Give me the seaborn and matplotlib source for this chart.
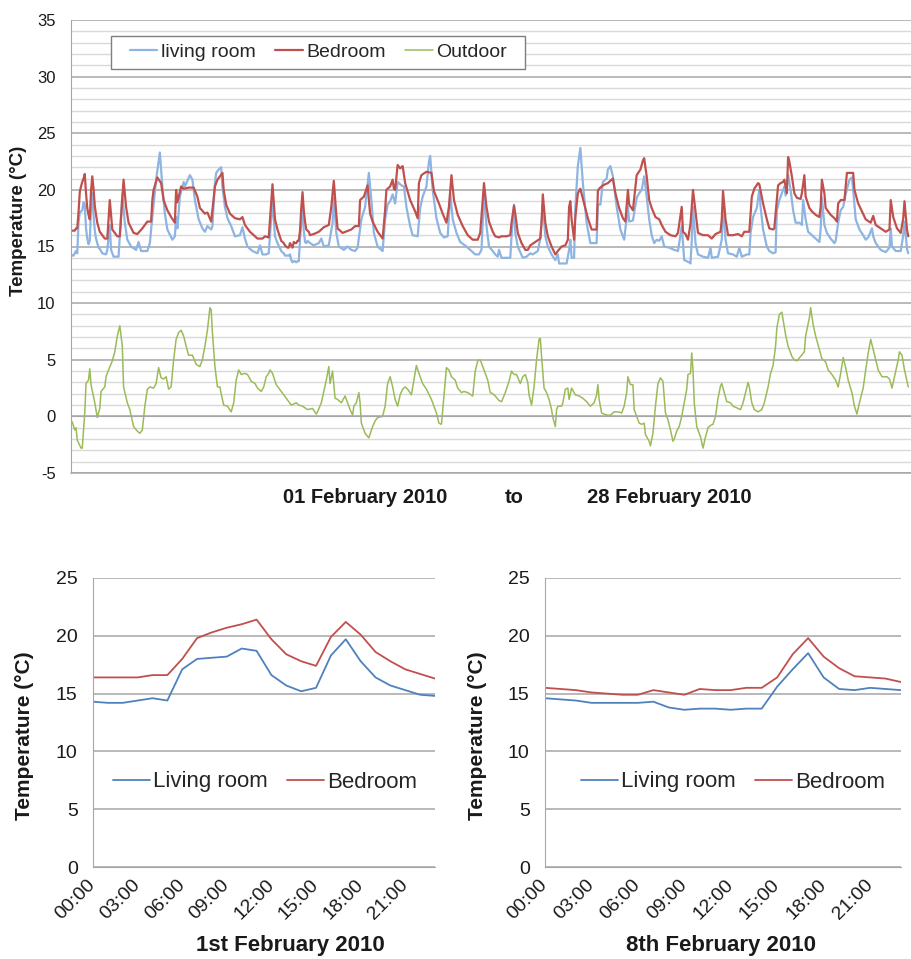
import matplotlib
matplotlib.use("Agg")
import matplotlib.pyplot as plt
from matplotlib.patches import Rectangle
from matplotlib.lines import Line2D
from matplotlib.ticker import MultipleLocator
import pandas as pd
import seaborn as sns

# ---------------------------------------------------------------------------
# February 2010 readings: (hour since 1 Feb 00:00, temperature in degC)
# ---------------------------------------------------------------------------
living_month = [
    (0,14.3),(1,14.2),(2,14.2),(3,14.4),(4,14.6),(5,14.4),(6,17.1),(7,18.0),(8,18.1),(9,18.2),(10,18.9),(11,18.7),
    (12,16.6),(13,15.7),(14,15.2),(15,15.5),(16,18.3),(17,19.7),(18,17.8),(19,16.4),(20,15.7),(21,15.3),(22,14.9),(23,14.8),
    (25,14.4),(28,14.3),(29,14.7),(31,16.9),(32,14.7),(34,14.1),(38,14.1),(41,19.6),(43,17.1),(45,15.6),(48,15.0),(52,14.7),
    (54,15.4),(56,14.6),(61,14.6),(63,15.3),(65,17.6),(68,20.9),(71,23.3),(73,20.3),(75,17.9),(77,16.5),(81,15.6),(83,15.9),
    (84,17.6),(85,16.6),(87,19.4),(90,20.7),(91,20.3),(95,21.3),(97,20.9),(99,19.1),(102,17.4),(105,16.6),(107,16.3),(109,16.8),
    (112,16.5),(113,16.8),(115,20.6),(116,21.5),(118,21.8),(120,22.0),(121,20.3),(123,18.5),(125,17.5),(128,16.8),(131,15.9),
    (135,16.0),(137,16.7),(139,15.7),(141,15.0),(145,14.6),(149,14.4),(151,15.1),(153,14.3),(156,14.3),(158,14.4),(161,19.1),
    (163,15.9),(165,15.3),
    (168,14.6),(169,14.5),(170,14.4),(171,14.2),(172,14.2),(173,14.2),(174,14.2),(175,14.3),(176,13.8),(177,13.6),(178,13.7),(179,13.7),
    (180,13.6),(181,13.7),(182,13.7),(183,15.6),(184,17.1),(185,18.5),(186,16.4),(187,15.4),(188,15.3),(189,15.5),(190,15.4),(191,15.3),
    (194,15.1),(198,15.3),(200,15.7),(202,15.0),(206,15.1),(209,17.1),(210,19.3),(212,16.2),(214,15.0),(218,14.7),(221,15.0),
    (224,14.7),(227,14.6),(229,14.9),(232,17.4),(235,18.5),(238,21.5),(240,19.1),(242,16.2),(245,15.0),(249,14.6),(251,17.4),
    (253,18.7),(255,19.0),(257,19.6),(259,18.8),(261,20.7),(264,20.4),(266,20.3),(268,18.5),(271,16.8),(273,16.0),(277,15.9),
    (279,18.4),(281,19.4),(284,20.3),(286,22.5),(287,23.0),(289,20.0),(292,17.5),(295,16.2),(298,15.8),(301,15.9),(303,19.7),
    (305,17.4),(308,16.2),(311,15.4),(316,15.0),(320,14.6),(323,14.3),(326,14.3),(328,14.7),(330,19.7),(332,16.8),(334,15.0),
    (337,14.6),(339,14.3),(341,14.1),(342,14.7),(344,14.0),(351,14.0),(352,15.9),(354,18.7),(355,16.2),(357,15.0),(361,14.0),
    (364,14.1),(367,14.4),(369,14.3),(373,14.6),(375,15.7),(377,18.7),(379,15.9),(381,15.0),(384,14.3),(387,13.8),(389,14.3),
    (390,13.5),(396,13.5),(398,14.7),(399,15.6),(400,14.0),(402,14.0),(403,18.5),(405,22.1),(407,23.7),(409,20.6),(412,17.1),
    (415,15.3),(420,15.3),(421,18.7),(423,18.7),(425,20.7),(428,21.0),(429,21.8),(431,22.1),(433,21.2),(436,18.5),(439,16.5),
    (442,15.6),(445,18.5),(446,17.2),(449,17.3),(452,19.3),(454,19.7),(456,20.0),(458,21.2),(460,19.4),(462,17.4),(464,16.0),
    (466,15.3),(468,15.6),(470,15.5),(472,15.9),(474,15.0),(478,14.9),(482,14.7),(485,14.6),(486,15.3),(488,16.8),(489,15.3),
    (490,13.8),(494,13.6),(495,13.5),(496,15.5),(497,18.5),(499,15.3),(501,14.3),(505,14.1),(509,14.0),(511,14.9),(512,14.0),
    (517,14.1),(520,15.6),(521,18.7),(523,15.6),(525,14.4),(529,14.3),(532,14.1),(534,14.9),(536,14.1),(540,14.3),(542,14.3),
    (543,16.2),(545,17.6),(548,18.4),(550,20.0),(551,18.5),(553,16.5),(556,15.0),(558,14.6),(561,14.4),(563,14.5),(564,18.2),
    (566,19.1),(568,19.7),(570,20.3),(571,19.5),(573,21.3),(575,20.0),(577,18.2),(579,17.1),(582,17.1),(584,16.9),(585,19.1),
    (587,17.4),(589,16.3),(592,16.0),(595,15.7),(598,15.4),(599,16.5),(600,19.3),(602,16.9),(604,16.2),(607,15.7),(610,15.3),
    (611,15.5),(613,17.1),(615,18.2),(617,18.5),(619,19.6),(622,20.9),(624,21.1),(625,20.0),(627,17.4),(630,16.5),(633,16.0),
    (635,15.6),(637,15.8),(640,16.6),(641,15.9),(643,15.3),(647,14.7),(651,14.5),(654,14.9),(655,16.6),(656,15.0),(659,14.6),
    (663,14.6),(665,16.0),(666,17.2),(668,14.8),(669,14.4),
]

bedroom_month = [
    (0,16.4),(1,16.4),(2,16.4),(3,16.4),(4,16.6),(5,16.6),(6,18.0),(7,19.8),(8,20.3),(9,20.7),(10,21.0),(11,21.4),
    (12,19.7),(13,18.4),(14,17.8),(15,17.4),(16,19.9),(17,21.2),(18,20.1),(19,18.6),(20,17.8),(21,17.1),(22,16.7),(23,16.3),
    (27,15.7),(29,15.7),(31,19.1),(33,16.5),(37,15.9),(39,15.9),(42,20.9),(44,18.5),(46,17.1),(50,16.2),(53,16.1),(57,16.6),
    (61,17.2),(64,17.2),(65,19.1),(66,20.0),(69,21.1),(72,20.6),(74,19.1),(77,18.2),(80,17.6),(83,17.1),(84,20.0),(85,18.9),
    (88,20.3),(90,20.1),(94,20.2),(98,20.2),(101,19.4),(103,18.4),(107,17.9),(109,18.0),(112,17.2),(115,20.3),(117,20.9),
    (121,21.5),(122,20.0),(124,18.7),(127,17.9),(131,17.5),(135,17.4),(137,17.6),(139,16.9),(143,16.3),(147,15.9),(149,15.7),
    (153,15.7),(155,15.9),(158,15.8),(161,20.5),(163,17.4),(165,16.5),
    (168,15.5),(169,15.4),(170,15.3),(171,15.1),(172,15.0),(173,14.9),(174,14.9),(175,15.3),(176,15.1),(177,14.9),(178,15.4),(179,15.3),
    (180,15.3),(181,15.5),(182,15.5),(183,16.4),(184,18.4),(185,19.8),(186,18.2),(187,17.2),(188,16.5),(189,16.4),(190,16.3),(191,16.0),
    (194,16.1),(198,16.3),(202,16.7),(206,16.9),(208,18.5),(210,20.8),(212,17.8),(213,16.6),(217,16.2),(224,16.5),(227,16.8),
    (230,16.8),(231,19.1),(234,19.4),(237,20.4),(239,17.9),(241,17.2),(245,16.3),(249,15.7),(251,18.2),(252,20.0),(255,20.3),
    (257,20.9),(258,20.1),(259,20.0),(261,22.2),(263,21.9),(265,22.1),(267,20.6),(271,19.1),(275,18.1),(277,17.5),(278,20.6),
    (280,21.3),(284,21.6),(288,21.5),(290,19.9),(294,18.8),(297,17.9),(300,17.1),(302,18.5),(304,21.3),(306,19.1),(309,17.8),
    (313,16.8),(317,16.0),(321,15.6),(325,15.6),(327,16.2),(330,20.6),(332,18.5),(334,17.2),(337,16.3),(339,15.9),(342,15.8),
    (344,15.9),(348,15.9),(351,16.0),(352,17.1),(354,18.6),(355,17.9),(357,16.2),(360,15.3),(363,14.7),(365,14.7),(367,15.1),
    (371,15.4),(375,15.7),(376,17.1),(377,19.6),(379,17.1),(381,15.9),(384,15.0),(387,14.3),(389,14.6),(392,15.0),(395,15.1),
    (397,15.6),(398,18.5),(399,19.0),(400,17.4),(402,15.6),(403,17.6),(405,19.7),(407,20.1),(410,18.8),(413,17.5),(416,16.5),
    (420,16.5),(421,19.9),(422,20.1),(425,20.4),(429,20.6),(433,21.0),(435,19.7),(438,18.4),(441,17.5),(443,17.2),(445,20.0),
    (446,18.7),(449,18.2),(452,21.3),(455,21.8),(457,22.6),(458,22.8),(460,21.2),(462,19.1),(464,18.4),(467,17.6),(470,17.4),
    (472,16.9),(475,16.3),(479,16.0),(483,15.9),(485,16.2),(488,18.5),(489,16.3),(491,16.1),(493,15.6),(495,17.0),(497,20.0),
    (499,18.1),(501,16.2),(505,16.0),(509,16.0),(512,15.7),(515,16.1),(519,16.3),(520,17.4),(521,19.9),(523,17.4),(525,16.0),
    (529,16.0),(533,16.1),(536,15.9),(538,16.3),(542,16.3),(544,19.4),(546,20.1),(549,20.6),(550,20.5),(553,18.8),(556,17.4),
    (558,16.6),(561,16.5),(562,16.6),(564,19.1),(565,20.4),(567,20.6),(569,20.7),(570,20.9),(572,19.7),(573,22.9),(574,22.5),
    (576,21.2),(578,19.7),(580,19.3),(583,19.2),(584,19.7),(586,21.3),(587,19.4),(590,18.4),(592,18.1),(595,17.8),(598,17.6),
    (599,18.5),(600,20.9),(602,19.7),(603,18.4),(607,17.8),(610,17.5),(612,17.2),(613,18.8),(615,19.1),(618,19.1),(620,21.5),
    (622,21.5),(625,21.5),(626,20.0),(629,18.8),(632,18.1),(635,17.4),(639,17.1),(641,17.7),(643,16.9),(647,16.6),(651,16.3),
    (654,16.5),(655,19.1),(657,17.6),(660,16.6),(663,16.2),(665,17.5),(666,19.0),(668,16.5),(669,15.9),
]

outdoor_month = [
    (0,-0.4),(1,-0.5),(3,-1.2),(4,-1.0),(5,-2.1),(8,-2.8),(9,-2.8),(11,0.3),(12,2.9),(14,3.2),(15,4.2),(16,2.8),(19,1.2),
    (21,-0.1),(23,0.7),(24,2.2),(27,2.6),(28,3.5),(30,4.1),(33,4.9),(35,5.7),(37,7.1),(39,8.0),(40,7.1),(41,6.2),(42,2.6),
    (45,1.2),(47,0.6),(50,-0.9),(53,-1.3),(55,-1.5),(57,-1.2),(59,0.9),(61,2.4),(63,2.6),(66,2.5),(68,2.9),(70,4.3),(72,3.4),
    (74,3.3),(76,3.5),(78,2.4),(80,2.6),(82,5.0),(84,6.8),(86,7.4),(88,7.6),(90,7.1),(92,6.2),(94,5.4),(97,5.4),(100,4.6),
    (103,4.4),(105,5.0),(107,6.2),(109,7.6),(111,9.6),(112,9.4),(113,7.4),(115,4.4),(117,2.6),(119,2.6),(120,2.0),(122,1.0),
    (125,0.9),(128,0.4),(130,1.2),(132,3.2),(134,4.1),(136,3.7),(139,3.8),(141,3.7),(144,3.1),(147,2.9),(149,2.5),(152,2.2),
    (154,2.6),(156,3.5),(158,3.8),(159,4.1),(161,3.8),(164,2.8),(168,2.2),(172,1.6),(176,1.0),(180,1.2),(182,1.0),(185,0.9),
    (189,0.6),(193,0.7),(196,0.2),(197,0.4),(200,1.2),(202,2.2),(204,3.2),(206,4.4),(207,2.9),(209,4.0),(211,1.6),(213,1.5),
    (216,1.2),(219,1.8),(221,1.2),(223,0.6),(225,0.1),(226,0.9),(228,1.2),(230,2.1),(231,1.2),(232,-0.6),(235,-1.5),(238,-1.9),
    (241,-0.9),(243,-0.4),(245,-0.1),(249,0.0),(251,0.9),(253,2.9),(255,3.5),(257,2.6),(259,1.5),(261,0.9),(263,1.9),(265,2.4),
    (267,2.6),(269,2.4),(272,1.9),(274,3.2),(276,4.5),(278,3.8),(281,2.9),(284,2.4),(288,1.5),(292,0.3),(294,-0.6),(296,-0.7),
    (298,1.8),(300,4.3),(302,4.1),(304,3.5),(307,3.2),(309,2.5),(312,2.1),(314,2.2),(317,2.1),(321,1.8),(323,4.0),(325,4.9),
    (327,5.0),(330,4.1),(333,3.2),(335,2.1),(337,2.0),(339,1.8),(342,1.4),(344,1.3),(347,2.1),(350,3.1),(352,4.0),(354,3.7),
    (356,3.7),(359,2.9),(361,3.5),(363,3.7),(365,3.0),(366,1.9),(368,1.0),(370,2.6),(372,5.0),(374,6.8),(375,6.9),(376,5.3),
    (378,2.5),(380,2.1),(382,1.5),(384,0.6),(385,-0.1),(387,-0.9),(388,0.6),(389,0.9),(392,0.9),(393,1.2),(395,2.4),(397,2.5),
    (398,1.5),(400,2.5),(403,1.9),(406,1.8),(409,1.6),(412,1.3),(415,0.9),(418,1.2),(420,1.9),(421,2.8),(422,1.5),(424,0.3),
    (426,0.2),(429,0.1),(431,0.1),(434,0.4),(437,0.4),(440,0.3),(442,0.9),(444,2.1),(445,3.5),(447,2.8),(449,2.8),(450,0.6),
    (452,0.0),(454,-0.6),(456,-0.7),(458,-0.6),(459,-1.6),(462,-2.2),(463,-2.6),(465,-1.5),(467,0.9),(469,2.9),(471,3.4),
    (473,3.1),(475,0.3),(477,-0.3),(479,-1.2),(481,-2.2),(482,-2.0),(484,-1.3),(486,-0.9),(488,0.0),(490,1.2),(492,2.4),
    (493,3.7),(495,3.8),(496,5.6),(497,4.1),(498,1.2),(500,-0.9),(503,-1.8),(505,-2.8),(507,-1.8),(509,-1.0),(511,-0.8),
    (513,-0.7),(515,0.0),(517,1.6),(519,2.7),(520,2.9),(522,2.1),(524,1.3),(527,1.2),(529,0.9),(533,0.7),(535,0.6),(537,1.2),
    (539,2.1),(541,3.0),(542,2.6),(544,1.2),(546,0.6),(549,0.4),(552,0.6),(554,1.2),(557,2.6),(559,3.8),(561,4.5),(563,6.2),
    (564,7.8),(566,9.0),(568,9.2),(571,7.2),(573,6.2),(576,5.3),(578,5.0),(580,4.9),(583,5.3),(586,5.7),(587,7.1),(590,8.7),
    (591,9.6),(593,8.1),(595,7.1),(598,5.9),(600,5.1),(603,4.8),(605,4.1),(608,3.7),(611,3.2),(613,2.6),(615,3.8),(617,5.2),
    (619,4.3),(621,3.2),(624,2.1),(626,0.9),(628,0.2),(630,1.2),(633,2.5),(635,4.1),(637,5.6),(639,6.8),(641,5.9),(643,5.0),
    (645,4.1),(648,3.5),(652,3.5),(654,3.3),(656,2.5),(658,3.5),(661,5.0),(662,5.7),(664,5.4),(666,4.1),(669,2.6),
]

# Hourly profiles of two single days
hours_of_day = list(range(24))
hour_labels = ["00:00", "03:00", "06:00", "09:00", "12:00", "15:00", "18:00", "21:00"]
feb1_living = [14.3, 14.2, 14.2, 14.4, 14.6, 14.4, 17.1, 18.0, 18.1, 18.2, 18.9, 18.7,
               16.6, 15.7, 15.2, 15.5, 18.3, 19.7, 17.8, 16.4, 15.7, 15.3, 14.9, 14.8]
feb1_bedroom = [16.4, 16.4, 16.4, 16.4, 16.6, 16.6, 18.0, 19.8, 20.3, 20.7, 21.0, 21.4,
                19.7, 18.4, 17.8, 17.4, 19.9, 21.2, 20.1, 18.6, 17.8, 17.1, 16.7, 16.3]
feb8_living = [14.6, 14.5, 14.4, 14.2, 14.2, 14.2, 14.2, 14.3, 13.8, 13.6, 13.7, 13.7,
               13.6, 13.7, 13.7, 15.6, 17.1, 18.5, 16.4, 15.4, 15.3, 15.5, 15.4, 15.3]
feb8_bedroom = [15.5, 15.4, 15.3, 15.1, 15.0, 14.9, 14.9, 15.3, 15.1, 14.9, 15.4, 15.3,
                15.3, 15.5, 15.5, 16.4, 18.4, 19.8, 18.2, 17.2, 16.5, 16.4, 16.3, 16.0]

# ---------------------------------------------------------------------------
sns.set_style("white")
plt.rcParams["font.family"] = ["Liberation Sans", "DejaVu Sans"]
plt.rcParams["axes.unicode_minus"] = False

W, H = 912, 959
fig = plt.figure(figsize=(W / 100, H / 100), dpi=100)


def fx(px):
    return px / W


def fy(py):
    return 1 - py / H


AXIS_GREY = "#A6A6A6"
MINOR_GREY = "#D9D9D9"
TEXT = "#1A1A1A"

c_living_light = "#8DB4E2"
c_bedroom = "#C0504D"
c_outdoor = "#9BBB59"
c_living = "#4F81BD"

# ---------------- month overview ----------------
ax = fig.add_axes([fx(71), fy(473), 1 - fx(71), fy(20) - fy(473)])
series = [("living room", living_month, c_living_light, 1.6),
          ("Bedroom", bedroom_month, c_bedroom, 1.6),
          ("Outdoor", outdoor_month, c_outdoor, 1.1)]
handles = []
for name, pairs, color, lw in series:
    df = pd.DataFrame(pairs, columns=["hour", "temp"])
    sns.lineplot(data=df, x="hour", y="temp", ax=ax, color=color, lw=lw,
                 estimator=None, sort=False, legend=False)
    handles.append(Line2D([], [], color=color, lw=lw))

ax.set_xlim(0, 668.6)
ax.set_ylim(-5, 35)
ax.yaxis.set_major_locator(MultipleLocator(5))
ax.yaxis.set_minor_locator(MultipleLocator(1))
ax.grid(which="minor", axis="y", color=MINOR_GREY, lw=1.0)
ax.grid(which="major", axis="y", color=AXIS_GREY, lw=1.1)
ax.set_axisbelow(True)
ax.axhline(-5, color=AXIS_GREY, lw=1.1, clip_on=False, zorder=0.5)
for s in ("top", "right"):
    ax.spines[s].set_visible(False)
ax.spines["left"].set_color(AXIS_GREY)
ax.spines["bottom"].set_color(AXIS_GREY)
ax.spines["bottom"].set_position(("data", 0))
ax.set_xticks(range(0, 673, 24))
ax.tick_params(axis="x", direction="out", length=4, color=AXIS_GREY, labelbottom=False)
ax.tick_params(axis="y", which="major", direction="out", length=4, color=AXIS_GREY,
               labelsize=12, labelcolor=TEXT, pad=7)
ax.tick_params(axis="y", which="minor", length=0)
ax.set_xlabel("")
ax.set_ylabel("")
fig.text(fx(19), fy(221), "Temperature (°C)", rotation=90, ha="center", va="center",
         fontsize=13.5, fontweight="bold", color=TEXT)

for x_px, txt in [(283, "01 February 2010"), (505, "to"), (587, "28 February 2010")]:
    fig.text(fx(x_px), fy(497), txt, ha="left", va="center", fontsize=14.5,
             fontweight="bold", color=TEXT)

fig.patches.append(Rectangle((fx(111), fy(69)), fx(525) - fx(111), fy(36) - fy(69),
                             transform=fig.transFigure, fill=True, facecolor="white",
                             edgecolor="#7F7F7F", lw=1.0, zorder=5))
leg = fig.legend(handles, [s[0] for s in series], loc="center left",
                 bbox_to_anchor=(fx(130), fy(52.5)), bbox_transform=fig.transFigure,
                 ncol=3, frameon=False, fontsize=14, handlelength=1.4,
                 handletextpad=0.2, columnspacing=1.0, borderpad=0, borderaxespad=0)
leg.set_zorder(6)

# ---------------- single-day panels ----------------
panels = [
    (93, 435, feb1_living, feb1_bedroom, "1st February 2010", 290, 25, 113),
    (545, 901, feb8_living, feb8_bedroom, "8th February 2010", 721, 478, 581),
]
tick_text = [hour_labels[i // 3] if i % 3 == 0 else "" for i in hours_of_day]
for left, right, living, bedroom, title, title_x, ylab_x, leg_x in panels:
    a = fig.add_axes([fx(left), fy(867), fx(right) - fx(left), fy(578) - fy(867)])
    day = pd.DataFrame({"hour": hours_of_day, "Living room": living, "Bedroom": bedroom})
    sns.lineplot(data=day, x="hour", y="Living room", ax=a, color=c_living, lw=1.3)
    sns.lineplot(data=day, x="hour", y="Bedroom", ax=a, color=c_bedroom, lw=1.3)
    a.set_xlim(0, 23)
    a.set_ylim(0, 25)
    a.set_yticks(range(0, 26, 5))
    a.grid(axis="y", color=AXIS_GREY, lw=1.1)
    a.set_axisbelow(True)
    for s in ("top", "right"):
        a.spines[s].set_visible(False)
    a.spines["left"].set_color(AXIS_GREY)
    a.spines["bottom"].set_color(AXIS_GREY)
    a.set_xticks(hours_of_day)
    a.set_xticklabels(tick_text, rotation=45, ha="right", va="center",
                      rotation_mode="anchor")
    a.tick_params(axis="x", direction="out", length=4, color=AXIS_GREY, labelsize=14,
                  labelcolor=TEXT, pad=7)
    a.tick_params(axis="y", direction="out", length=4, color=AXIS_GREY, labelsize=14,
                  labelcolor=TEXT, pad=7)
    a.set_xlabel("")
    a.set_ylabel("")
    fig.text(fx(ylab_x), fy(736), "Temperature (°C)", rotation=90, ha="center",
             va="center", fontsize=15, fontweight="bold", color=TEXT)
    fig.text(fx(title_x), fy(945), title, ha="center", va="center", fontsize=16,
             fontweight="bold", color=TEXT)
    h = [Line2D([], [], color=c_living, lw=1.3), Line2D([], [], color=c_bedroom, lw=1.3)]
    fig.legend(h, ["Living room", "Bedroom"], loc="center left",
               bbox_to_anchor=(fx(leg_x), fy(782)), bbox_transform=fig.transFigure,
               ncol=2, frameon=False, fontsize=16, handlelength=1.67,
               handletextpad=0.15, columnspacing=0.85, borderpad=0, borderaxespad=0)

fig.savefig("out.png", dpi=100)
